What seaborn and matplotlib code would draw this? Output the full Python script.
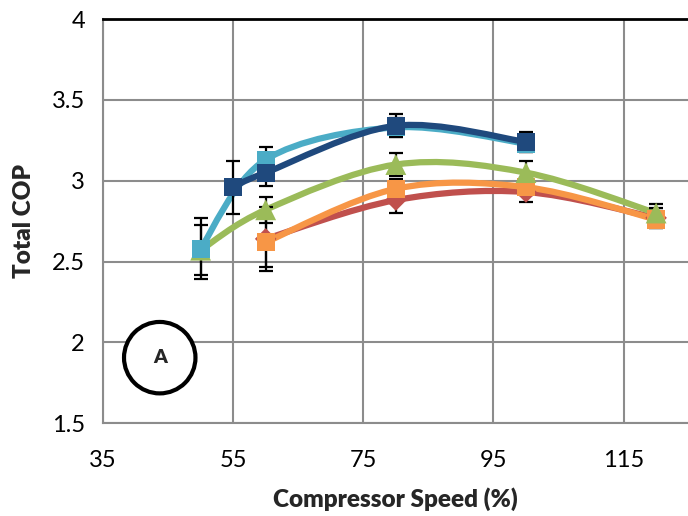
import matplotlib.pyplot as plt
import numpy as np
import pandas as pd
import seaborn as sns
from matplotlib.path import Path
from matplotlib.patches import PathPatch

sns.set_style("white")
plt.rcParams["font.family"] = ["Lato", "DejaVu Sans"]

# series: compressor speed (%), total COP, error (+/-)
speed_red = [60, 80, 100, 120]
cop_red = [2.64, 2.88, 2.93, 2.77]
err_red = [0.20, 0.08, 0.06, 0.06]

speed_orange = [60, 80, 100, 120]
cop_orange = [2.62, 2.95, 2.96, 2.76]
err_orange = [0.155, 0.06, 0.05, 0.05]

speed_green = [50, 60, 80, 100, 120]
cop_green = [2.57, 2.82, 3.10, 3.05, 2.80]
err_green = [0.155, 0.08, 0.07, 0.07, 0.055]

speed_light = [50, 60, 80, 100]
cop_light = [2.58, 3.13, 3.33, 3.23]
err_light = [0.19, 0.08, 0.06, 0.05]

speed_dark = [55, 60, 80, 100]
cop_dark = [2.96, 3.05, 3.34, 3.24]
err_dark = [0.165, 0.08, 0.07, 0.06]

series = [
    ("red", speed_red, cop_red, err_red, "#C0504D", "D", 11),
    ("orange", speed_orange, cop_orange, err_orange, "#F79646", "s", 13),
    ("green", speed_green, cop_green, err_green, "#9BBB59", "^", 15),
    ("light", speed_light, cop_light, err_light, "#4BACC6", "s", 13),
    ("dark", speed_dark, cop_dark, err_dark, "#1F497D", "s", 13),
]


def smooth_path(xs, ys):
    # Excel-style smoothed line: cubic bezier through the points
    pts = np.column_stack([xs, ys]).astype(float)
    verts = [pts[0]]
    codes = [Path.MOVETO]
    n = len(pts)
    for i in range(n - 1):
        p0 = pts[max(i - 1, 0)]
        p1 = pts[i]
        p2 = pts[i + 1]
        p3 = pts[min(i + 2, n - 1)]
        c1 = p1 + (p2 - p0) / 6.0
        c2 = p2 - (p3 - p1) / 6.0
        verts += [c1, c2, p2]
        codes += [Path.CURVE4] * 3
    return Path(verts, codes)


fig = plt.figure(figsize=(6.88, 5.16), dpi=100)
ax = fig.add_axes([0.1497, 0.180, 0.8503, 0.783])

for k, (name, xs, ys, es, col, mk, ms) in enumerate(series):
    ax.add_patch(PathPatch(smooth_path(xs, ys), fill=False, edgecolor=col,
                           lw=4.5, capstyle="round", joinstyle="round",
                           zorder=2 + k * 0.1))
    ax.errorbar(xs, ys, yerr=es, fmt="none", ecolor="black", elinewidth=1.6,
                capsize=5, capthick=1.6, zorder=3 + k * 0.1)

for k, (name, xs, ys, es, col, mk, ms) in enumerate(series):
    df = pd.DataFrame({"speed": xs, "cop": ys})
    sns.scatterplot(data=df, x="speed", y="cop", marker=mk, s=ms ** 2,
                    color=col, edgecolor="none", linewidth=0, ax=ax,
                    zorder=4 + k * 0.1)

ax.set_xlim(35, 124.9)
ax.set_ylim(1.5, 4)
ax.set_xticks([35, 55, 75, 95, 115])
ax.set_yticks([1.5, 2, 2.5, 3, 3.5, 4])
ax.set_yticklabels(["1.5", "2", "2.5", "3", "3.5", "4"])

ax.grid(True, color="#8C8C8C", lw=1.5)
ax.set_axisbelow(True)
for s in ["left", "bottom"]:
    ax.spines[s].set_color("#8C8C8C")
    ax.spines[s].set_linewidth(1.5)
ax.spines["right"].set_visible(False)
ax.spines["top"].set_color("black")
ax.spines["top"].set_linewidth(2)
ax.tick_params(axis="both", direction="out", length=7, width=1.5,
               color="#8C8C8C", labelsize=17, labelcolor="black", pad=6)
ax.tick_params(axis="x", pad=12)

ax.set_xlabel("Compressor Speed (%)", fontsize=17.5, fontweight="heavy", labelpad=12)
ax.set_ylabel("Total COP", fontsize=17.5, fontweight="heavy", labelpad=12)

ax.text(0.097, 0.162, "A", transform=ax.transAxes, ha="center", va="center",
        fontsize=14, fontweight="heavy", zorder=6,
        bbox=dict(boxstyle="circle,pad=1.4", fc="white", ec="black", lw=3))

fig.savefig("out.png", dpi=100)
